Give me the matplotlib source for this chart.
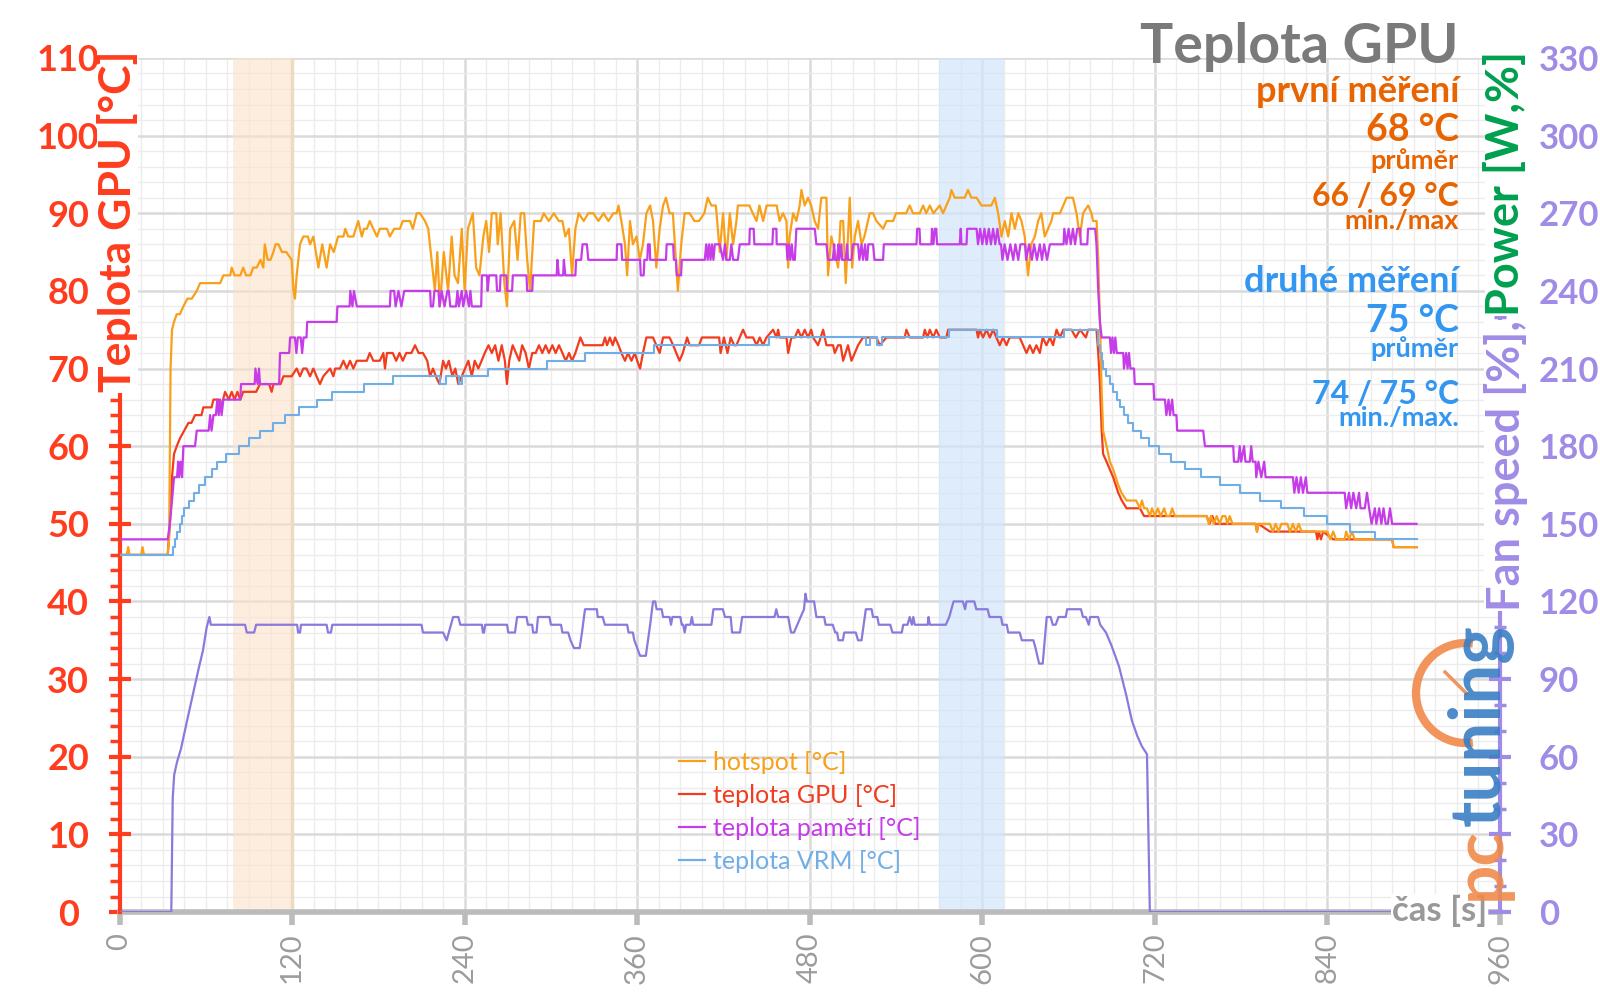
import matplotlib
matplotlib.use('Agg')
import matplotlib.pyplot as plt
from matplotlib.ticker import MultipleLocator
from matplotlib.patches import Arc
from matplotlib.lines import Line2D

plt.rcParams['font.family'] = ['Lato', 'DejaVu Sans']

# ---------------- data (time [s], value) ----------------
hotspot = [(0,46),(5,46),(6,47),(7,46),(15,46),(16,47),(17,46),(33.5,46),(34.5,48),(35.5,70),(36.5,75),(37.9,76),(39.8,77),(42,77),(44.4,78),(47.2,79),(50.2,79),(53.7,80),(56,81),(59.5,81),(70,81),(72.2,82),(74.5,82),(77,82),(78,83),(80,82),(84,82),(86,83),(88,82),(91,82),(93,83),(95.4,83),(98,84),(100,83),(101,86),(103,84),(105,84),(107,85),(108.5,86),(110.5,86),(113,85),(116,85),(119.7,84),(121,80),(122,79),(123.2,82),(125.5,86),(127.8,87),(131,87),(132.5,86),(134.8,87),(138.3,83),(141,86),(144,83),(146.4,86),(149,85),(152,87),(155.7,87),(157,88),(159,87),(162.6,87),(166,89),(168.5,87),(170,88),(172,88),(174,89),(176.5,88),(179,87),(181,88),(186,88),(188,87),(191,88),(195,88),(197,89),(202,89),(204,88),(206.7,90),(209,90),(212.4,89),(214.7,88),(217,84),(219.3,80),(221,85),(222.8,78),(225.5,85),(228.5,80),(231,87),(233,82),(235.4,81),(238,88),(240,80),(242.3,88),(245.7,90),(248,83),(250.3,82),(253,87),(255,89),(257,85),(258.9,90),(262,90),(263,86),(265,90),(267.6,81),(269.4,78),(271.7,88),(274.5,89),(276.8,84),(279,90),(281.4,90),(283.5,84),(285.5,80),(288.3,89),(293,89),(295,90),(298.5,89),(302,90),(305.5,89),(308,89),(310,87),(312.5,88),(314.7,82),(317,88),(319.3,90),(322.8,89),(326,90),(329.5,90),(333,89),(336.6,90),(340,89),(343.4,90),(345.7,90),(347,91),(349,89),(351.5,86),(353,82),(355,89),(357,86),(359.5,87),(361.8,84),(364,86),(366.4,90),(369,91),(371,89),(373.3,83),(375.6,88),(378,91),(380,92),(382.5,90),(384.8,90),(388.3,80),(390.6,86),(393,90),(396.5,90),(399.8,89),(403,89),(406.7,90),(409,92),(411.6,91),(414.7,91),(417.4,85),(419.7,90),(422,84),(424.4,90),(426.7,86),(429,89),(430,91),(438,91),(440.4,90),(443,89),(445,91),(447.6,89),(450,91),(457,91),(459,89),(461.4,90),(463.8,89),(465,83),(466,87),(468.4,90),(470.7,89),(473,91),(474.2,93),(476.5,91),(478.8,92),(481,91),(483.4,89),(485.8,88),(488,92),(491.6,92),(492.7,82),(495,87),(497.4,85),(499.7,83),(501.4,89),(503.2,89),(505,81),(506.6,87),(507.8,92),(509.5,83),(511.3,87),(513.6,89),(516,86),(518,87),(521.7,90),(524,90),(526.4,89),(531,88),(533.4,89),(538,89),(540,90),(547,90),(549.5,91),(551.8,90),(556.5,90),(558.8,91),(561,90),(563.5,91),(566,90),(570.4,91),(572.7,90),(575,91),(577.4,92),(578.5,93),(580.8,92),(587.8,92),(590,93),(592.4,92),(596,92),(599.4,91),(606.3,91),(608.7,92),(611,90),(613.3,87),(615.6,89),(618,87),(620.3,90),(622.6,88),(625,90),(627.2,89),(629.5,87),(631.8,82),(634,86),(636.5,87),(638.8,89),(641,90),(643.4,87),(645.7,88),(648,89),(649.3,90),(654,90),(656.3,91),(658.6,92),(663,92),(665.5,90),(667.8,87),(670.1,90),(673.6,91),(675.9,90),(677,89),(679.5,89),(680.6,84),(681.8,76),(683,67),(684,62),(686.4,60),(688.7,58),(691,57),(694.5,55),(696.8,54),(700.3,53),(707,53),(709.6,52),(711,53),(712.5,52),(714.5,52),(716.5,51),(718,52),(720,51),(722,52),(724,51),(726.5,52),(728,51),(730.5,51),(732,52),(734,51),(756,51),(757.5,50),(759,51),(761,50),(763,51),(765,50),(767,51),(769,51),(770.5,50),(772,51),(774,50),(790,50),(791,49),(792,50),(800,50),(802,49),(804,50),(806,49),(808,50),(812,50),(814,49),(816,50),(818,49),(820,50),(822,49),(840,49),(842,48),(844,49),(846,48),(852,48),(853,49),(855,48),(857,49),(859,48),(885,48),(886,47),(902,47)]

gpu = [(0,46),(33.5,46),(35,50),(36.5,56),(37.9,59),(39.8,60),(42,61),(45,62),(47.9,63),(50,63),(52.5,64),(57,64),(58.3,65),(64,65),(65.3,66),(69,66),(70.5,65),(72,66),(73.4,67),(76,66),(78,67),(80,66),(82,67),(84,66),(86,67),(95,67),(97.7,68),(104,68),(105.8,67),(107,68),(112,68),(114,69),(119.7,69),(123.2,70),(125.5,69),(127.8,70),(130,70),(132.5,69),(134.8,70),(137,69),(139.4,68),(141.7,69),(146.4,70),(148.7,69),(150,70),(153.3,70),(155.7,71),(158,70),(160.3,71),(162.6,70),(165,71),(172,71),(174,72),(176.5,71),(181,71),(183.5,72),(184.6,70),(186,72),(190,72),(192.4,71),(194.7,72),(197,71),(199.4,72),(203,72),(205.5,73),(208,72),(211,72),(214,71),(216,69),(218,70),(220,69),(222.5,68),(225,71),(227,70),(229,71),(231.5,69),(233.5,70),(235.6,68),(238,69),(240.3,70),(242.6,71),(245,69),(247,71),(249.5,70),(251.8,71),(254,72),(256.6,73),(258.9,72),(261.2,73),(263.5,71),(265.8,73),(268,71),(269.4,68),(271,71),(273.4,73),(275.7,72),(278,71),(280,73),(282.4,72),(284.7,70),(287,72),(289.4,72),(291.7,73),(294,72),(296.3,73),(298.6,72),(301,73),(303.3,72),(305.6,73),(308,72),(310.3,71),(312.6,72),(314.7,71),(317,72),(320.5,74),(322.8,73),(336,73),(337.6,74),(339,73),(341,74),(343,73),(344.6,74),(347,73),(349,72),(351.5,71),(353.6,72),(356,71),(358.3,72),(360,71),(362,70),(364,72),(366.4,74),(371,74),(373.3,73),(375.6,72),(378,74),(382.5,74),(385,73),(389.4,71),(391.7,72),(394.7,74),(396.5,73),(403,73),(405,74),(417,74),(418,72),(420.3,74),(422.8,72),(425,74),(427.4,73),(429,73),(431.3,74),(433.6,75),(436,74),(440.6,74),(443,73),(445.2,74),(447.5,73),(449.9,74),(454.5,75),(456.8,74),(458,75),(459,74),(463.8,74),(465,72),(467.2,74),(469.6,74),(471.9,75),(474.2,74),(476.5,75),(478.8,74),(481,75),(482.3,74),(485.8,73),(489.3,75),(491.6,73),(496.2,73),(497.4,72),(499.7,73),(501.5,73),(503.2,71),(506.6,73),(509,71),(511.3,72),(513.6,73),(517,74),(526.4,74),(528.7,73),(533.3,74),(546,74),(547.2,75),(549.5,74),(558.8,74),(560,75),(561.8,74),(563.5,75),(565.8,74),(568,75),(570.4,74),(575,74),(576.2,75),(596,75),(597,74),(598.2,75),(600.5,74),(602.9,75),(605.2,74),(607.5,75),(609.8,74),(612.1,73),(614.4,74),(616.8,73),(619,74),(626,74),(630.7,72),(633,73),(635.3,72),(637.6,73),(640,72),(642,74),(644.6,73),(647,74),(649.2,73),(651.6,75),(654,74),(656.3,75),(662,75),(665,74),(668,75),(672,74),(673.6,75),(679.4,75),(680.6,72),(681.8,68),(683,62),(684,59),(686.4,58),(688.7,57),(691,56),(694.5,54),(697,53),(700.3,52),(709.6,52),(712.5,51),(756,51),(758,50),(760,51),(762,50),(790,50),(791,49),(792,50),(800,49),(832,49),(833,48),(834,49),(835.5,48),(837,49),(844,48),(885,48),(886,47),(902,47)]

memory = [(0,48),(33.5,48),(35,50),(36.5,53),(37.9,56),(40,56),(40.8,58),(41.5,56),(42.5,58),(43.5,56),(44.4,60),(52.5,60),(53.7,62),(62,62),(63,64),(64,62),(65.3,64),(67,64),(68,66),(69,64),(70,66),(71,64),(72.2,66),(84,66),(84.5,68),(94,68),(94.5,70),(96,68),(97,70),(97.7,68),(111,68),(111.6,72),(118,72),(118.6,74),(122,74),(123,72),(124,74),(126,74),(127,72),(128,74),(130,74),(130.5,76),(151,76),(151.5,78),(160,78),(160.5,80),(162,78),(163,80),(165,78),(188,78),(188.5,80),(191,80),(192,78),(194,80),(196,78),(198,80),(216,80),(216.5,78),(218,78),(219,80),(221.8,80),(222.5,78),(224,80),(226,78),(228,80),(229,80),(230,78),(234,78),(235,80),(236,78),(238,80),(239,78),(241,80),(243,78),(244,80),(245,78),(251.5,78),(252,82),(255.5,82),(256,80),(257,82),(262,82),(262.5,80),(264.5,80),(265,82),(269,82),(269.5,80),(273,80),(273.5,82),(283,82),(283.5,80),(287,80),(287.5,82),(304,82),(304.5,84),(305.5,82),(308.5,82),(309,84),(310,82),(317,82),(317.5,84),(321,84),(322,86),(325,86),(326,84),(345.7,84),(346,86),(349,86),(349.5,84),(362,84),(362.5,82),(364.5,82),(365,84),(367,84),(367.5,86),(368.7,86),(369,84),(380,84),(380.5,86),(385,86),(385.5,84),(387,84),(387.5,82),(390.5,82),(391,84),(407,84),(408,86),(409,84),(410,86),(411,84),(412,86),(413,84),(414,86),(416,86),(417.4,86),(419.7,84),(421,86),(422,84),(424.4,84),(425.5,86),(426.7,84),(430,84),(431.3,86),(438,86),(438.3,88),(441,88),(441.5,86),(454,86),(454.5,88),(456.8,88),(457,86),(463.8,86),(464.5,84),(465.5,86),(466.5,84),(467.5,86),(468.5,84),(469.6,84),(470.7,88),(483.5,88),(484.6,86),(491.6,86),(492.7,84),(496,84),(497,86),(497.5,84),(499,84),(500,86),(500.5,84),(502,86),(502.5,84),(505,84),(506,86),(506.6,84),(509,84),(510,86),(513.6,86),(514.5,84),(516,86),(517,84),(518.5,86),(519.2,84),(520,84),(520.7,86),(524,86),(525,84),(531,84),(531.5,86),(554.2,86),(554.7,88),(556.3,88),(556.8,86),(564.6,86),(565,88),(566,86),(567,88),(568,88),(568.5,86),(584.3,86),(585,88),(585.5,86),(589,86),(589.5,88),(596,88),(597,86),(598.5,88),(600,86),(601.5,88),(603,86),(604.5,88),(606,86),(607.5,88),(609,86),(610.5,88),(612,86),(613,86),(614,84),(615.5,86),(617.5,84),(619.5,86),(621.5,84),(623,86),(625,84),(626.5,86),(629.7,86),(630.5,84),(632.5,86),(634.5,84),(636,86),(638,84),(640,86),(641.5,84),(643,86),(645,84),(647,86),(656.5,86),(657,88),(658.5,86),(660,88),(661.5,86),(663,88),(664.5,86),(666,88),(668,88),(668.5,86),(673,86),(673.5,88),(678.5,88),(679.4,86),(680.6,80),(681.8,76),(683,74),(688.7,74),(689.5,72),(690.5,74),(691.5,72),(692.5,74),(693.5,72),(698,72),(698.5,70),(700,72),(701,70),(702,72),(703,70),(705.5,70),(706,68),(719,68),(719.5,66),(727,66),(728,64),(729.5,66),(730.5,64),(732,66),(733,64),(735,64),(735.5,62),(753.6,62),(754.8,60),(774.5,60),(775,58),(778,58),(779,60),(780,58),(782,60),(783,58),(786,58),(787,60),(788,58),(790,58),(790.5,56),(792,58),(794,56),(796,58),(797,56),(816,56),(817,54),(818.5,56),(820,54),(821.5,56),(823,54),(825,56),(826,54),(852,54),(853,52),(855,54),(856.5,52),(858,54),(860,52),(862,54),(863,52),(866,52),(867.5,54),(869,52),(870.7,50),(873,52),(874,50),(876,52),(877.5,50),(879,52),(880.5,50),(882,50),(883.5,52),(885,50),(902,50)]

# VRM is a staircase: (time where the new level starts, level)
vrm_steps = [(0,46),(37,47),(38.5,48),(40,49),(42,50),(43.2,51),(45,52),(48,53),(52,54),(55,55),(59.5,56),(64,57),(68,58),(74,59),(83,60),(90,61),(98,62),(107,63),(115,64),(125,65),(137,66),(148,67),(170,68),(190,69),(223,68),(227,69),(236,68),(238,69),(256,70),(297,71),(324,72),(372,73),(452,74),(519,73),(522,74),(527,73),(530,74),(577,75),(610,74),(657,75),(680.2,74),(680.6,73),(681.5,72),(683,71),(684,70),(686,69),(688.5,68),(691,67),(693.5,66),(696,65),(698.5,64),(701,63),(705,62),(710,61),(716,60),(723,59),(731,58),(741,57),(752,56),(765,55),(779,54),(793,53),(808,52),(824,51),(840,50),(856,49),(873,48),(902,48)]

# fan speed on the right axis
fan = [(0,0),(36,0),(37,44),(38,53),(40,58),(42.7,63),(47,74),(51,84),(55,94),(58,101),(60.6,110),(62.5,114),(63.5,111),(87.3,111),(88.5,108),(93.6,108),(95,111),(123.5,111),(124.2,108),(125.5,108),(126.2,111),(144,111),(145,108),(147,108),(148,111),(210,111),(211,108),(225,108),(227.5,105),(229,108),(232,114),(235.6,114),(237,111),(252,111),(252.7,108),(253.5,108),(254.3,111),(269.5,111),(270.3,108),(275,108),(276.5,114),(283,114),(284,111),(287,111),(287.6,108),(290,108),(291,114),(299,114),(300,111),(307,111),(308,108),(312,108),(313.6,105),(316,102),(320,102),(321.6,108),(323.7,117),(332,117),(332.5,114),(336,114),(337.5,111),(353,111),(354,108),(357,108),(358,105),(360,102),(362,99),(366,99),(369,111),(371,120),(372.5,120),(373.5,117),(377,117),(378,114),(382.5,114),(383.5,111),(384.5,114),(390,114),(391,111),(392,111),(393,108),(394,111),(397,111),(398,114),(399,111),(411.6,111),(413,117),(419.6,117),(421,114),(425,114),(426,108),(431.5,108),(433,114),(455.5,114),(456.7,117),(458,114),(465,114),(467,108),(469,108),(476,117),(477,123),(478,120),(483,120),(484.6,114),(490,114),(491,111),(496,111),(497.7,108),(499,108),(500,105),(503,105),(504,108),(512,108),(513.6,105),(516,105),(519,117),(523,117),(524,114),(527,114),(528,111),(536,111),(537.5,108),(544,108),(545,111),(548,111),(549.5,114),(551,111),(552,114),(553,111),(562,111),(562.6,114),(563.5,111),(574.6,111),(577,114),(580,120),(586.5,120),(588,117),(589,120),(594.4,120),(595.8,117),(603.7,117),(605,114),(613,114),(614,111),(617,111),(618,108),(626,108),(627.5,105),(635.5,105),(637,102),(639.5,96),(642,96),(644.8,114),(647.5,114),(649,111),(651,111),(653,114),(658,114),(659,117),(668.6,117),(670,114),(672,114),(674,111),(675,114),(680.5,114),(682,111),(686,108),(689.8,103),(695,95),(700,84),(704,74),(707.8,68),(711,64),(714.5,61),(716.5,0),(902,0)]

x_ticks = [0, 120, 240, 360, 480, 600, 720, 840, 960]
left_ticks = [0, 10, 20, 30, 40, 50, 60, 70, 80, 90, 100, 110]
right_ticks = [0, 30, 60, 90, 120, 150, 180, 210, 240, 270, 300, 330]
span_first = (79, 120)
span_second = (570, 615)

legend_labels = ['hotspot [°C]', 'teplota GPU [°C]', 'teplota pamětí [°C]', 'teplota VRM [°C]']

# ---------------- style ----------------
C_HOT = '#F9A01A'
C_GPU = '#F23C1E'
C_MEM = '#C63CE8'
C_VRM = '#72AEE6'
C_FAN = '#8A7ADC'
C_LEFT = '#FF3C1E'
C_RIGHT = '#A08CE6'
C_GREEN = '#00A050'
C_ORANGE_TXT = '#E86400'
C_BLUE_TXT = '#3396F0'
C_GRAY = '#7A7A7A'

W, H = 1600, 1008
fig = plt.figure(figsize=(W / 100, H / 100), dpi=100)
fig.patch.set_facecolor('white')

def fx(x):
    return x / W

def fy(y):
    return 1 - y / H

ax = fig.add_axes([0.0747, 0.0952, 0.8628, 0.8473])
ax.set_xlim(0, 960)
ax.set_ylim(0, 110)
ax.set_xticks(x_ticks)
ax.set_yticks(left_ticks)
ax.xaxis.set_minor_locator(MultipleLocator(15))
ax.yaxis.set_minor_locator(MultipleLocator(2))
ax.set_axisbelow(True)
ax.grid(which='major', color='#DADADA', lw=1.8)
ax.grid(which='minor', color='#ECECEC', lw=1.0)

for s in ['top', 'right']:
    ax.spines[s].set_visible(False)
ax.spines['left'].set_color(C_LEFT)
ax.spines['left'].set_linewidth(3)
ax.spines['bottom'].set_color('#BBBBBB')
ax.spines['bottom'].set_linewidth(4)
ax.spines['bottom'].set_zorder(1.5)

ax.tick_params(axis='y', which='major', direction='inout', length=16, width=3,
               color=C_LEFT, labelcolor=C_LEFT, labelsize=26, pad=29)
ax.tick_params(axis='y', which='minor', direction='out', length=7, width=2.5, color=C_LEFT)
ax.tick_params(axis='x', which='major', direction='out', length=9, width=4,
               color='#BBBBBB', labelcolor='#9C9C9C', labelsize=21, labelrotation=90, pad=6)
ax.tick_params(axis='x', which='minor', length=0)
for lab in ax.get_yticklabels():
    lab.set_fontweight('bold')
    lab.set_horizontalalignment('center')

ax.axvspan(*span_first, color='#FBE2CB', alpha=0.6, lw=0, zorder=1)
ax.axvline(span_first[1], color='#EED9C2', lw=2.5, zorder=1.1)
ax.axvspan(*span_second, color='#D2E5FA', alpha=0.7, lw=0, zorder=1)

def split(pairs):
    return [p[0] for p in pairs], [p[1] for p in pairs]

t, v = split(gpu)
ax.plot(t, v, color=C_GPU, lw=1.6, zorder=3)
t, v = split(hotspot)
ax.plot(t, v, color=C_HOT, lw=1.6, zorder=3.2)
t, v = split(memory)
ax.plot(t, v, color=C_MEM, lw=1.6, zorder=3.4)
t, v = split(vrm_steps)
ax.plot(t, v, color=C_VRM, lw=1.5, drawstyle='steps-post', zorder=3.6)

handles = [Line2D([], [], color=c, lw=1.6) for c in (C_HOT, C_GPU, C_MEM, C_VRM)]
leg = ax.legend(handles, legend_labels, loc='upper left', bbox_to_anchor=(0.398, 0.2),
                frameon=False, fontsize=18, handlelength=1.05, handletextpad=0.3,
                labelspacing=0.4, borderaxespad=0)
for txt, c in zip(leg.get_texts(), (C_HOT, C_GPU, C_MEM, C_VRM)):
    txt.set_color(c)

ax2 = ax.twinx()
ax2.set_ylim(0, 330)
ax2.set_yticks(right_ticks)
ax2.yaxis.set_minor_locator(MultipleLocator(10))
for s in ['top', 'left', 'bottom']:
    ax2.spines[s].set_visible(False)
ax2.spines['right'].set_color(C_RIGHT)
ax2.spines['right'].set_linewidth(3)
ax2.tick_params(axis='y', which='major', direction='inout', length=16, width=3,
                color=C_RIGHT, labelcolor=C_RIGHT, labelsize=25, pad=20)
ax2.tick_params(axis='y', which='minor', direction='inout', length=9, width=2.5, color=C_RIGHT)
for lab in ax2.get_yticklabels():
    lab.set_fontweight('bold')
t, v = split(fan)
ax2.plot(t, v, color=C_FAN, lw=1.6, zorder=3)

# ---------------- texts ----------------
fig.text(fx(1459), fy(47), 'Teplota GPU', ha='right', va='center', fontsize=40,
         fontweight='bold', color=C_GRAY)
ann = [
    ('první měření', 92, 26, C_ORANGE_TXT),
    ('68 °C', 130, 27, C_ORANGE_TXT),
    ('průměr', 161, 19.5, C_ORANGE_TXT),
    ('66 / 69 °C', 196, 23, C_ORANGE_TXT),
    ('min./max', 221, 19.5, C_ORANGE_TXT),
    ('druhé měření', 281, 26, C_BLUE_TXT),
    ('75 °C', 321, 27, C_BLUE_TXT),
    ('průměr', 349, 19.5, C_BLUE_TXT),
    ('74 / 75 °C', 394, 23, C_BLUE_TXT),
    ('min./max.', 418, 19.5, C_BLUE_TXT),
]
for s, y, size, c in ann:
    fig.text(fx(1459), fy(y), s, ha='right', va='center', fontsize=size,
             fontweight='bold', color=c)

fig.text(fx(117), fy(51), 'Teplota GPU [°C]', rotation=90, ha='center', va='top',
         fontsize=32, fontweight='bold', color=C_LEFT,
         bbox=dict(fc='white', ec='none', pad=0.0))

t_pow = fig.text(fx(1506), fy(51), 'Power [W,%]', rotation=90, ha='center', va='top',
                 fontsize=32.5, fontweight='bold', color=C_GREEN,
                 bbox=dict(fc='white', ec='none', pad=0.0))

fig.text(fx(1487), fy(911), 'čas [s]', ha='right', va='center', fontsize=25,
         fontweight='bold', color='#999999', bbox=dict(fc='white', ec='none', pad=0.5))

# logo (pcTuning)
t_pc = fig.text(fx(1480), fy(900), 'pc', rotation=90, ha='center', va='bottom', fontsize=50,
                fontweight='bold', color='#F08A4B', alpha=0.9)
fig.add_artist(Arc((fx(1466), fy(693)), 100 / W, 100 / H, theta1=85, theta2=275,
                   transform=fig.transFigure, color='#F08A4B', lw=6, alpha=0.9))
fig.add_artist(Line2D([fx(1445), fx(1466)], [fy(672), fy(693)], transform=fig.transFigure,
                      color='#F08A4B', lw=2.5, alpha=0.9))

fig.canvas.draw()
renderer = fig.canvas.get_renderer()
bb = t_pow.get_window_extent(renderer)
fig.text(fx(1506), bb.y0 / H - 0.004, 'Fan speed [%],', rotation=90, ha='center', va='top',
         fontsize=32.5, fontweight='bold', color=C_RIGHT,
         bbox=dict(fc='white', ec='none', pad=0.0))
bb_pc = t_pc.get_window_extent(renderer)
fig.text(fx(1480), bb_pc.y1 / H + 0.001, 'tuning', rotation=90, ha='center', va='bottom',
         fontsize=51, fontweight='bold', color='#3A7EC4', alpha=0.9)

fig.savefig('out.png', dpi=100)
